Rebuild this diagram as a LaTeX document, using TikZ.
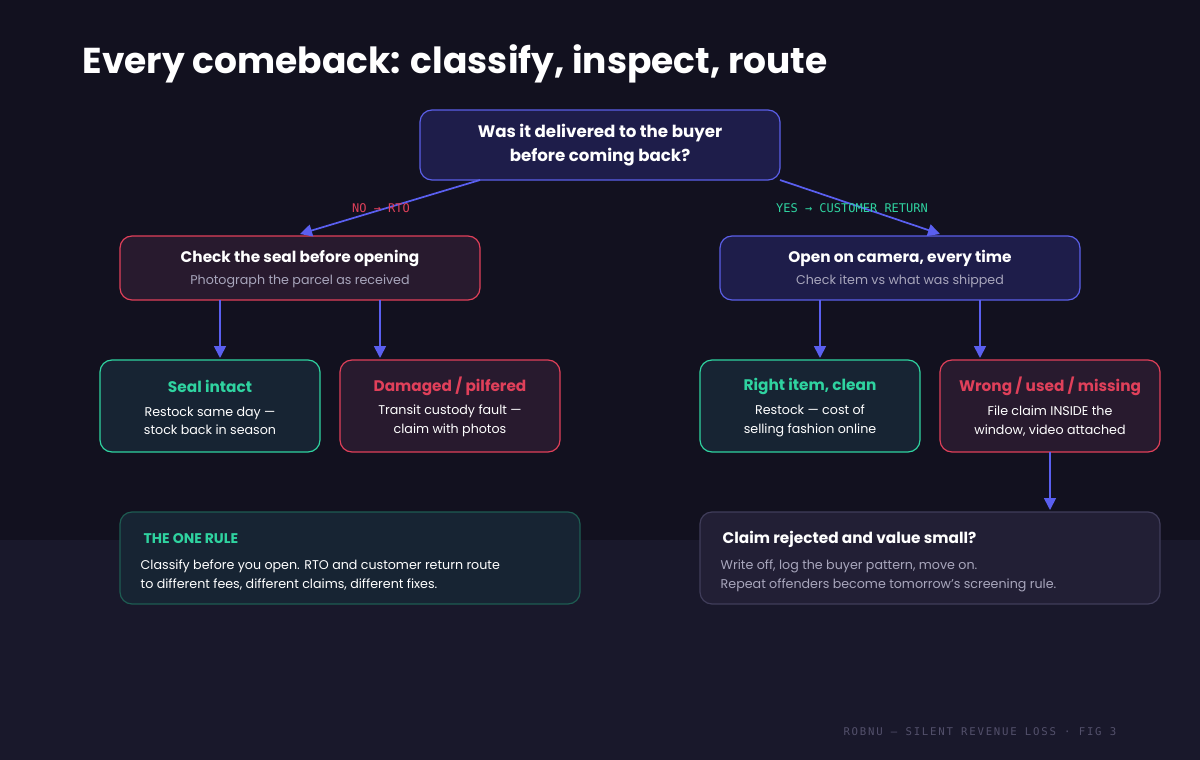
\documentclass[tikz,border=0pt]{standalone}
\usepackage{fontspec}
\setmainfont{Poppins}
\newfontfamily\monof{DejaVu Sans Mono}
\usetikzlibrary{arrows.meta}
\definecolor{bgA}{HTML}{12111F}
\definecolor{bgB}{HTML}{19182B}
\definecolor{blueB}{HTML}{5B5FE8}
\definecolor{blueF}{HTML}{1E1D4A}
\definecolor{redB}{HTML}{E0405A}
\definecolor{redF}{HTML}{281A2E}
\definecolor{greenB}{HTML}{2FD3A0}
\definecolor{greenF}{HTML}{172433}
\definecolor{dimG}{HTML}{1E5C52}
\definecolor{greyF}{HTML}{221F35}
\definecolor{greyB}{HTML}{403D5A}
\definecolor{subT}{HTML}{A8A6BC}
\definecolor{arr}{HTML}{5A5FF0}
\begin{document}
\begin{tikzpicture}[x=0.75pt,y=-0.75pt,
  box/.style={rounded corners=9pt,line width=0.9pt},
  ttl/.style={font=\bfseries\fontsize{11.5}{14}\selectfont},
  sub/.style={font=\fontsize{9.5}{14}\selectfont,text=subT},
  ar/.style={arr,line width=1.3pt,-{Triangle[length=9pt,width=9pt]}},
  lab/.style={font=\monof\fontsize{9}{11}\selectfont}]
\fill[bgA] (0,0) rectangle (1200,540);
\fill[bgB] (0,540) rectangle (1200,760);
\useasboundingbox (0,0) rectangle (1200,760);
\node[anchor=west,text=white,font=\bfseries\fontsize{27}{32}\selectfont] (title) at (78,64) {Every comeback: classify, inspect, route};
% top
\draw[box,fill=blueF,draw=blueB] (420,110) rectangle (780,180);
\node[ttl,text=white,align=center,font=\bfseries\fontsize{12.5}{18}\selectfont] (top) at (600,145) {Was it delivered to the buyer\\before coming back?};
\coordinate (topL) at (480,180); \coordinate (topR) at (780,180);
% level 2
\draw[box,fill=redF,draw=redB] (120,236) rectangle (480,300);
\node[ttl,text=white] (seal) at (300,258) {Check the seal before opening};
\node[sub] (sealS) at (300,281) {Photograph the parcel as received};
\draw[box,fill=blueF,draw=blueB] (720,236) rectangle (1080,300);
\node[ttl,text=white] (cam) at (900,258) {Open on camera, every time};
\node[sub] (camS) at (900,281) {Check item vs what was shipped};
\coordinate (Lin) at (300,234); \coordinate (Rin) at (940,234);
\draw[ar] (topL) -- (Lin);
\draw[ar] (topR) -- (Rin);
\node[lab,text=redB] (no) at (381,208) {NO → RTO};
\node[lab,text=greenB] (yes) at (852,208) {YES → CUSTOMER RETURN};
% level 3
\draw[box,fill=greenF,draw=greenB] (100,360) rectangle (320,452);
\node[ttl,text=greenB] (a) at (210,386) {Seal intact};
\node[sub,text=white!85,align=center] (aS) at (210,421) {Restock same day —\\stock back in season};
\draw[box,fill=redF,draw=redB] (340,360) rectangle (560,452);
\node[ttl,text=redB] (b) at (450,386) {Damaged / pilfered};
\node[sub,text=white!85,align=center] (bS) at (450,421) {Transit custody fault —\\claim with photos};
\draw[box,fill=greenF,draw=greenB] (700,360) rectangle (920,452);
\node[ttl,text=greenB] (c) at (810,386) {Right item, clean};
\node[sub,text=white!85,align=center] (cS) at (810,421) {Restock — cost of\\selling fashion online};
\draw[box,fill=redF,draw=redB] (940,360) rectangle (1160,452);
\node[ttl,text=redB] (d) at (1050,386) {Wrong / used / missing};
\node[sub,text=white!85,align=center] (dS) at (1050,421) {File claim INSIDE the\\window, video attached};
\coordinate (s1) at (220,300); \coordinate (e1) at (220,358);
\coordinate (s2) at (380,300); \coordinate (e2) at (380,358);
\coordinate (s3) at (820,300); \coordinate (e3) at (820,358);
\coordinate (s4) at (980,300); \coordinate (e4) at (980,358);
\coordinate (s5) at (1050,452); \coordinate (e5) at (1050,510);
\foreach \i in {1,...,5} \draw[ar] (s\i) -- (e\i);
% bottom
\draw[box,fill=greenF,draw=dimG] (120,512) rectangle (580,604);
\node[anchor=west,ttl,text=greenB,font=\bfseries\fontsize{10.5}{13}\selectfont] (rule) at (139,539) {THE ONE RULE};
\node[anchor=north west,sub,text=white!85,align=left] (ruleS) at (136,555) {Classify before you open. RTO and customer return route\\to different fees, different claims, different fixes.};
\draw[box,fill=greyF,draw=greyB] (700,512) rectangle (1160,604);
\node[anchor=west,ttl,text=white] (cl) at (718,539) {Claim rejected and value small?};
\node[anchor=north west,sub,align=left] (clS) at (716,555) {Write off, log the buyer pattern, move on.\\Repeat offenders become tomorrow’s screening rule.};
\node[anchor=east,font=\monof\fontsize{8}{10}\selectfont,text=greyB!90!white] (foot) at (1121,732) {R\,O\,B\,N\,U \,—\, S\,I\,L\,E\,N\,T \,R\,E\,V\,E\,N\,U\,E \,L\,O\,S\,S \,·\, F\,I\,G \,3};
\end{tikzpicture}
\end{document}
